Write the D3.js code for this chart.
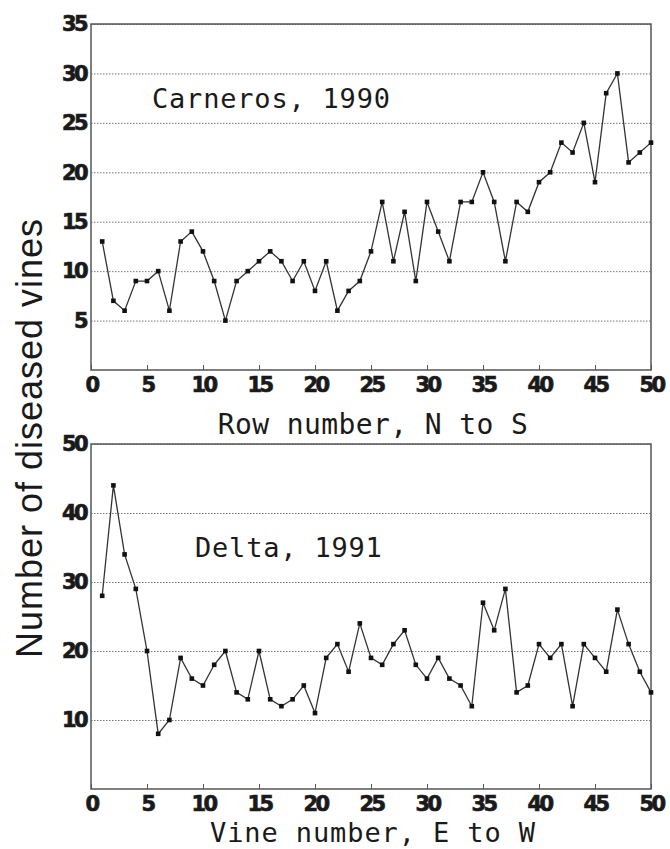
<html>
<head>
  <script src="https://d3js.org/d3.v7.min.js"></script>
  <style>
    body { margin: 0; background: #fff; }
    .tick text { font-family: "DejaVu Sans"; font-weight: bold; font-size: 21px; letter-spacing: -2.6px; fill: #1a1a1a; stroke: #1a1a1a; stroke-width: 0.7px; }
    .mono { font-family: "DejaVu Sans Mono"; fill: #1a1a1a; }
  </style>
</head>
<body>
<script>
// row / vine numbers along the x axis
var rowNumbers = [1,2,3,4,5,6,7,8,9,10,11,12,13,14,15,16,17,18,19,20,
  21,22,23,24,25,26,27,28,29,30,31,32,33,34,35,36,37,38,39,40,
  41,42,43,44,45,46,47,48,49,50];

// Carneros, 1990
var carneros = [13,7,6,9,9,10,6,13,14,12,9,5,9,10,11,12,11,9,11,8,
  11,6,8,9,12,17,11,16,9,17,14,11,17,17,20,17,11,17,16,19,
  20,23,22,25,19,28,30,21,22,23];

// Delta, 1991
var delta = [28,44,34,29,20,8,10,19,16,15,18,20,14,13,20,13,12,13,15,11,
  19,21,17,24,19,18,21,23,18,16,19,16,15,12,27,23,29,14,15,21,
  19,21,12,21,19,17,26,21,17,14];

var xTicks = [0,5,10,15,20,25,30,35,40,45,50];
var topYTicks = [5,10,15,20,25,30,35];
var bottomYTicks = [10,20,30,40,50];

var W = 670, H = 849;
var left = 91, right = 651;

var svg = d3.select("body").append("svg")
  .attr("width", W)
  .attr("height", H);

function panel(values, yMax, yTicks, top, bottom, title, titleX, titleY) {
  var x = d3.scaleLinear().domain([0, 50]).range([left, right]);
  var y = d3.scaleLinear().domain([0, yMax]).range([bottom, top]);

  var g = svg.append("g");

  // dotted gridlines + y labels
  var gy = g.append("g")
    .attr("transform", "translate(" + left + ",0)")
    .call(d3.axisLeft(y).tickValues(yTicks).tickSize(-(right - left)).tickPadding(5));
  gy.select(".domain").remove();
  gy.selectAll(".tick line")
    .attr("stroke", "#777")
    .attr("stroke-width", 1)
    .attr("stroke-dasharray", "1.5,1.5");

  // x axis, ticks pointing up into the plot
  var gx = g.append("g")
    .attr("transform", "translate(0," + bottom + ")")
    .call(d3.axisBottom(x).tickValues(xTicks).tickSize(-5).tickPadding(7));
  gx.select(".domain").remove();
  gx.selectAll(".tick line").attr("stroke", "#555");

  // frame
  g.append("rect")
    .attr("x", left).attr("y", top)
    .attr("width", right - left).attr("height", bottom - top)
    .attr("fill", "none")
    .attr("stroke", "#555")
    .attr("stroke-width", 1.5);

  var line = d3.line()
    .x(function(d, i) { return x(rowNumbers[i]); })
    .y(function(d) { return y(d); });

  g.append("path")
    .datum(values)
    .attr("d", line)
    .attr("fill", "none")
    .attr("stroke", "#333")
    .attr("stroke-width", 1.3);

  g.selectAll("rect.pt")
    .data(values)
    .enter()
    .append("rect")
    .attr("class", "pt")
    .attr("x", function(d, i) { return x(rowNumbers[i]) - 2.3; })
    .attr("y", function(d) { return y(d) - 2.3; })
    .attr("width", 4.6)
    .attr("height", 4.6)
    .attr("fill", "#111");

  g.append("text")
    .attr("class", "mono")
    .attr("x", titleX)
    .attr("y", titleY)
    .attr("font-size", 27)
    .attr("letter-spacing", 0.8)
    .text(title);
}

panel(carneros, 35, topYTicks, 24, 370, "Carneros, 1990", 152, 108);
panel(delta, 50, bottomYTicks, 444, 789, "Delta, 1991", 195, 557);

// axis titles
svg.append("text")
  .attr("class", "mono")
  .attr("x", 373).attr("y", 434)
  .attr("text-anchor", "middle")
  .attr("font-size", 28)
  .attr("letter-spacing", 0.4)
  .text("Row number, N to S");

svg.append("text")
  .attr("class", "mono")
  .attr("x", 373).attr("y", 842)
  .attr("text-anchor", "middle")
  .attr("font-size", 27)
  .attr("letter-spacing", 0.9)
  .text("Vine number, E to W");

svg.append("text")
  .attr("transform", "translate(42,438) rotate(-90)")
  .attr("text-anchor", "middle")
  .attr("font-family", "Liberation Sans")
  .attr("font-size", 36)
  .attr("letter-spacing", 1)
  .attr("fill", "#1a1a1a")
  .text("Number of diseased vines");
</script>
</body>
</html>
